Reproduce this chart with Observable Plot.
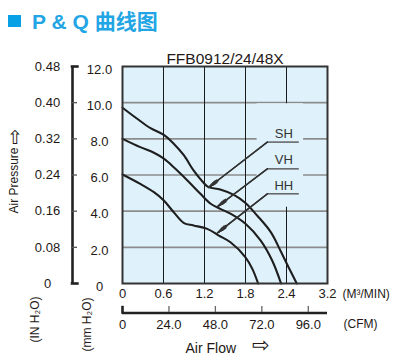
<!DOCTYPE html>
<html><head><meta charset="utf-8">
<script src="https://cdn.jsdelivr.net/npm/d3@7"></script>
<script src="https://cdn.jsdelivr.net/npm/@observablehq/plot@0.6"></script>
<style>
body{margin:0;background:#fff;font-family:"Liberation Sans",Arial,sans-serif;}
#wrap{position:relative;width:399px;height:363px;overflow:hidden;}
#sq{position:absolute;left:8px;top:15px;width:13px;height:12px;background:#0AA0E6;}
#title{position:absolute;left:32px;top:8px;font:bold 21px "Liberation Sans",Arial,"Noto Sans CJK SC",sans-serif;color:#22A5E4;line-height:28px;white-space:nowrap;}
#chart{position:absolute;left:0;top:40px;}
</style></head>
<body><div id="wrap"><div id="sq"></div><div id="title">P &amp; Q 曲线图</div><div id="chart"></div></div>
<script>
// ---- data ----
const model = "FFB0912/24/48X";
const seriesNames = ["SH", "VH", "HH"];
const shFlow = [0, 0.215, 0.41, 0.605, 0.75, 0.90, 1.04, 1.17, 1.26, 1.43, 1.63, 1.80, 1.97, 2.17, 2.31, 2.43, 2.55];
const shPres = [9.72, 9.11, 8.59, 8.22, 7.73, 7.08, 6.25, 5.64, 5.33, 5.20, 4.90, 4.45, 3.76, 2.84, 1.83, 0.90, 0];
const vhFlow = [0, 0.26, 0.46, 0.605, 0.75, 0.95, 1.14, 1.29, 1.43, 1.58, 1.80, 2.02, 2.19, 2.32];
const vhPres = [8.0, 7.54, 7.23, 6.90, 6.43, 5.70, 4.96, 4.41, 4.13, 3.86, 3.30, 2.38, 1.27, 0];
const hhFlow = [0, 0.26, 0.46, 0.605, 0.75, 0.90, 1.04, 1.24, 1.41, 1.58, 1.80, 1.90, 1.985];
const hhPres = [6.03, 5.51, 5.05, 4.59, 3.94, 3.34, 3.21, 3.02, 2.65, 2.28, 1.45, 0.81, 0];

// axis ticks & labels
const mmTicks = [0, 2, 4, 6, 8, 10, 12];
const mmLabels = ["0", "2.0", "4.0", "6.0", "8.0", "10.0", "12.0"];
const inLabels = ["0", "0.08", "0.16", "0.24", "0.32", "0.40", "0.48"];
const flowTicks = [0, 0.6, 1.2, 1.8, 2.4, 3.0];
const flowLabels = ["0", "0.6", "1.2", "1.8", "2.4", "3.2"];
const cfmTicks = [0, 24, 48, 72, 96];
const cfmLabels = ["0", "24.0", "48.0", "72.0", "96.0"];
const CFM_PER_M3 = 35.31;

// series-label annotations (data coordinates)
const labelX = 2.36;
const labelY = [8.28, 6.84, 5.42];
const underlineY = [7.82, 6.34, 4.96];
const underlineX = [2.12, 2.58];
const tipX = [1.26, 1.39, 1.39];
const tipY = [5.31, 4.25, 2.80];
const labelBox = {x1: 1.97, x2: 2.65, y1: 4.22, y2: 9.94};

// ---- build tables ----
const flows = [shFlow, vhFlow, hhFlow], pres = [shPres, vhPres, hhPres];
const rows = [];
seriesNames.forEach((name, s) => flows[s].forEach((x, i) => rows.push({series: name, x, y: pres[s][i]})));
const ann = seriesNames.map((name, i) => ({name, lx: labelX, ly: labelY[i], uy: underlineY[i], tx: tipX[i], ty: tipY[i]}));

const bg = "#DFF2FB", ink = "#231815";
const W = 399, H = 323, mL = 122, mR = 72, mT = 26, mB = 80;
const fw = W - mL - mR, fh = H - mT - mB;
const mid = "middle";
const leader = {x1: underlineX[0], y1: "uy", x2: "tx", y2: "ty", stroke: "#333", strokeWidth: 1, headLength: 11};

const chart = Plot.plot({
  width: W, height: H,
  marginTop: mT, marginBottom: mB, marginLeft: mL, marginRight: mR,
  x: {domain: [0, 3.0], axis: null},
  y: {domain: [0, 12], axis: null},
  style: {fontFamily: "'Liberation Sans', Arial, sans-serif", color: ink, background: "transparent", overflow: "visible"},
  marks: [
    Plot.frame({fill: bg}),
    Plot.ruleY([2, 4, 6, 8, 10], {stroke: "#8c8c8c", strokeWidth: 1.6}),
    Plot.ruleX([0.6, 1.2, 1.8, 2.4], {stroke: "#1a1a1a", strokeWidth: 1}),
    Plot.rect([labelBox], {x1: "x1", x2: "x2", y1: "y1", y2: "y2", fill: bg}),
    Plot.line(rows, {x: "x", y: "y", z: "series", curve: "catmull-rom", stroke: "#1e1e1e", strokeWidth: 2.1}),
    Plot.frame({stroke: "#333", strokeWidth: 2}),
    // annotations
    Plot.link(ann, {x1: underlineX[0], x2: underlineX[1], y1: "uy", y2: "uy", stroke: "#555", strokeWidth: 1.4}),
    Plot.arrow(ann, {...leader, headAngle: 24}),
    Plot.arrow(ann, {...leader, headAngle: 16, strokeWidth: 1.3}),
    Plot.arrow(ann, {...leader, headAngle: 8, strokeWidth: 1.5}),
    Plot.text(ann, {x: "lx", y: "ly", text: "name", fontSize: 13, fill: "#333", textAnchor: mid}),
    // left axes (mm H2O bracket + inch labels)
    Plot.ruleX([0], {y1: 0, y2: 12, dx: -50, stroke: "#222", strokeWidth: 2.6}),
    Plot.tickY(mmTicks.slice(1, -1), {y: d => d, dx: -50, insetRight: fw - 5, stroke: "#555", strokeWidth: 1.3}),
    Plot.tickY([0, 12], {y: d => d, dx: -51.3, insetRight: fw - 8, stroke: "#222", strokeWidth: 2.6}),
    Plot.text(mmTicks, {y: d => d, text: (d, i) => mmLabels[i], frameAnchor: "left", dx: -23, dy: 3, fontSize: 13, textAnchor: mid}),
    Plot.text(mmTicks, {y: d => d, text: (d, i) => inLabels[i], frameAnchor: "left", dx: -75, fontSize: 13, textAnchor: mid}),
    Plot.text(["Air Pressure"], {frameAnchor: "left", dx: -108, dy: 5.5, rotate: -90, fontSize: 12, textAnchor: mid}),
    Plot.text(["⇧"], {frameAnchor: "left", dx: -108, dy: -37.5, fontSize: 19, textAnchor: mid}),
    Plot.text(["(IN H₂O)"], {frameAnchor: "bottom-left", dx: -84, dy: 36, rotate: -90, fontSize: 12, textAnchor: mid}),
    Plot.text(["(mm H₂O)"], {frameAnchor: "bottom-left", dx: -32, dy: 41, rotate: -90, fontSize: 12, textAnchor: mid}),
    // bottom axes
    Plot.text(flowTicks, {x: d => d, text: (d, i) => flowLabels[i], frameAnchor: "bottom", dy: 14, fontSize: 13, textAnchor: mid}),
    Plot.text(["(M³/MIN)"], {frameAnchor: "bottom-right", dx: 15, dy: 14, textAnchor: "start", fontSize: 12}),
    Plot.ruleY([0], {dy: 29.5, stroke: "#222", strokeWidth: 2.6}),
    Plot.tickX(cfmTicks.slice(1), {x: d => d / CFM_PER_M3, insetTop: fh - 6, dy: 29, stroke: "#666", strokeWidth: 1.3}),
    Plot.tickX([0], {x: d => d, insetTop: fh - 8, dy: 30.8, stroke: "#222", strokeWidth: 2.6}),
    Plot.text(cfmTicks, {x: d => d / CFM_PER_M3, text: (d, i) => cfmLabels[i], frameAnchor: "bottom", dy: 45, fontSize: 13, textAnchor: mid}),
    Plot.text(["(CFM)"], {frameAnchor: "bottom-right", dx: 16, dy: 44, textAnchor: "start", fontSize: 12}),
    Plot.text(["Air Flow"], {frameAnchor: "bottom-left", dx: 63, dy: 69, textAnchor: "start", fontSize: 14}),
    Plot.text(["⇨"], {frameAnchor: "bottom-left", dx: 129, dy: 68, textAnchor: "start", fontSize: 21}),
    // subtitle
    Plot.text([model], {frameAnchor: "top", dy: -13.5, fontSize: 15.5, textAnchor: mid})
  ]
});
document.getElementById("chart").appendChild(chart);
</script>
</body></html>
